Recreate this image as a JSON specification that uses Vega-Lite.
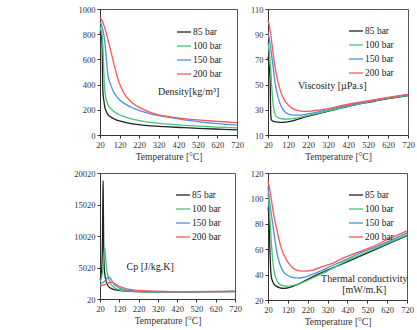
{
  "$schema": "https://vega.github.io/schema/vega-lite/v6.json",
  "background": "white",
  "padding": {"left": 73, "top": 4, "right": 0, "bottom": 0},
  "config": {
    "view": {"stroke": "#555", "strokeWidth": 1},
    "axis": {"domainColor": "#333", "tickColor": "#333", "labelFont": "Liberation Serif", "labelFontSize": 8.5, "labelColor": "#333", "titleFont": "Liberation Serif", "titleFontSize": 9.5, "titleFontWeight": "normal", "titleColor": "#333", "grid": false, "tickSize": 3, "labelPadding": 2, "titlePadding": 3, "labelFlush": false, "labelOverlap": false, "tickCount": 20},
    "legend": {"orient": "none", "title": null, "symbolType": "stroke", "symbolSize": 196, "symbolStrokeWidth": 1, "labelFont": "Liberation Serif", "labelFontSize": 9.5, "labelColor": "#222", "rowPadding": 1, "labelOffset": 1},
    "line": {"strokeWidth": 1.3, "interpolate": "monotone"}
  },
  "datasets": {
    "dens": [
      {"s":"85 bar","T":20,"v":820},{"s":"85 bar","T":25,"v":800},{"s":"85 bar","T":29,"v":765},{"s":"85 bar","T":31,"v":700},{"s":"85 bar","T":33,"v":480},{"s":"85 bar","T":35,"v":340},{"s":"85 bar","T":40,"v":270},{"s":"85 bar","T":44,"v":225},{"s":"85 bar","T":50,"v":195},{"s":"85 bar","T":61,"v":162},{"s":"85 bar","T":80,"v":138},{"s":"85 bar","T":95,"v":125},{"s":"85 bar","T":120,"v":112},{"s":"85 bar","T":180,"v":90},{"s":"85 bar","T":250,"v":76},{"s":"85 bar","T":350,"v":66},{"s":"85 bar","T":450,"v":58},{"s":"85 bar","T":550,"v":51},{"s":"85 bar","T":650,"v":45},{"s":"85 bar","T":720,"v":41},
      {"s":"100 bar","T":20,"v":860},{"s":"100 bar","T":25,"v":835},{"s":"100 bar","T":30,"v":800},{"s":"100 bar","T":35,"v":700},{"s":"100 bar","T":38,"v":560},{"s":"100 bar","T":41,"v":440},{"s":"100 bar","T":44,"v":370},{"s":"100 bar","T":48,"v":310},{"s":"100 bar","T":53,"v":275},{"s":"100 bar","T":60,"v":245},{"s":"100 bar","T":78,"v":204},{"s":"100 bar","T":95,"v":182},{"s":"100 bar","T":112,"v":167},{"s":"100 bar","T":140,"v":147},{"s":"100 bar","T":180,"v":128},{"s":"100 bar","T":250,"v":106},{"s":"100 bar","T":350,"v":88},{"s":"100 bar","T":450,"v":77},{"s":"100 bar","T":521,"v":71},{"s":"100 bar","T":620,"v":63},{"s":"100 bar","T":720,"v":57},
      {"s":"150 bar","T":20,"v":900},{"s":"150 bar","T":30,"v":860},{"s":"150 bar","T":40,"v":790},{"s":"150 bar","T":45,"v":730},{"s":"150 bar","T":50,"v":650},{"s":"150 bar","T":55,"v":560},{"s":"150 bar","T":61,"v":470},{"s":"150 bar","T":70,"v":420},{"s":"150 bar","T":78,"v":384},{"s":"150 bar","T":90,"v":340},{"s":"150 bar","T":112,"v":292},{"s":"150 bar","T":140,"v":255},{"s":"150 bar","T":180,"v":220},{"s":"150 bar","T":230,"v":190},{"s":"150 bar","T":282,"v":166},{"s":"150 bar","T":350,"v":145},{"s":"150 bar","T":436,"v":124},{"s":"150 bar","T":520,"v":106},{"s":"150 bar","T":620,"v":90},{"s":"150 bar","T":720,"v":78},
      {"s":"200 bar","T":20,"v":935},{"s":"200 bar","T":35,"v":890},{"s":"200 bar","T":50,"v":820},{"s":"200 bar","T":65,"v":730},{"s":"200 bar","T":78,"v":650},{"s":"200 bar","T":90,"v":570},{"s":"200 bar","T":100,"v":510},{"s":"200 bar","T":112,"v":440},{"s":"200 bar","T":130,"v":370},{"s":"200 bar","T":146,"v":322},{"s":"200 bar","T":180,"v":262},{"s":"200 bar","T":214,"v":225},{"s":"200 bar","T":260,"v":190},{"s":"200 bar","T":316,"v":162},{"s":"200 bar","T":380,"v":144},{"s":"200 bar","T":436,"v":132},{"s":"200 bar","T":500,"v":122},{"s":"200 bar","T":572,"v":113},{"s":"200 bar","T":650,"v":105},{"s":"200 bar","T":720,"v":98}
    ],
    "visc": [
      {"s":"85 bar","T":20,"v":72},{"s":"85 bar","T":25,"v":66},{"s":"85 bar","T":30,"v":56},{"s":"85 bar","T":32,"v":40},{"s":"85 bar","T":34,"v":26},{"s":"85 bar","T":37,"v":22},{"s":"85 bar","T":45,"v":21},{"s":"85 bar","T":53,"v":20.6},{"s":"85 bar","T":70,"v":20.2},{"s":"85 bar","T":87,"v":20},{"s":"85 bar","T":110,"v":20.3},{"s":"85 bar","T":137,"v":21},{"s":"85 bar","T":170,"v":22.5},{"s":"85 bar","T":203,"v":24.2},{"s":"85 bar","T":250,"v":26},{"s":"85 bar","T":300,"v":28},{"s":"85 bar","T":370,"v":30.8},{"s":"85 bar","T":450,"v":33.8},{"s":"85 bar","T":537,"v":36.4},{"s":"85 bar","T":620,"v":38.8},{"s":"85 bar","T":720,"v":41.3},
      {"s":"100 bar","T":20,"v":83},{"s":"100 bar","T":25,"v":78},{"s":"100 bar","T":30,"v":70},{"s":"100 bar","T":35,"v":58},{"s":"100 bar","T":40,"v":45},{"s":"100 bar","T":45,"v":35},{"s":"100 bar","T":53,"v":27.5},{"s":"100 bar","T":60,"v":25},{"s":"100 bar","T":78,"v":23.2},{"s":"100 bar","T":100,"v":22.7},{"s":"100 bar","T":120,"v":22.6},{"s":"100 bar","T":150,"v":23.1},{"s":"100 bar","T":203,"v":24.8},{"s":"100 bar","T":250,"v":26.5},{"s":"100 bar","T":300,"v":28.3},{"s":"100 bar","T":370,"v":31},{"s":"100 bar","T":450,"v":33.9},{"s":"100 bar","T":537,"v":36.6},{"s":"100 bar","T":620,"v":39},{"s":"100 bar","T":720,"v":41.5},
      {"s":"150 bar","T":20,"v":91},{"s":"150 bar","T":30,"v":83},{"s":"150 bar","T":40,"v":71},{"s":"150 bar","T":45,"v":65},{"s":"150 bar","T":55,"v":52},{"s":"150 bar","T":70,"v":40},{"s":"150 bar","T":85,"v":33},{"s":"150 bar","T":103,"v":28.7},{"s":"150 bar","T":120,"v":26.8},{"s":"150 bar","T":137,"v":26},{"s":"150 bar","T":170,"v":25.8},{"s":"150 bar","T":203,"v":26.2},{"s":"150 bar","T":250,"v":27.6},{"s":"150 bar","T":287,"v":29},{"s":"150 bar","T":350,"v":31.2},{"s":"150 bar","T":453,"v":34.6},{"s":"150 bar","T":537,"v":37.1},{"s":"150 bar","T":620,"v":39.4},{"s":"150 bar","T":720,"v":42},
      {"s":"200 bar","T":20,"v":101},{"s":"200 bar","T":30,"v":94},{"s":"200 bar","T":40,"v":82},{"s":"200 bar","T":53,"v":66},{"s":"200 bar","T":70,"v":52},{"s":"200 bar","T":87,"v":43},{"s":"200 bar","T":103,"v":37.5},{"s":"200 bar","T":120,"v":34},{"s":"200 bar","T":140,"v":31.3},{"s":"200 bar","T":170,"v":29.3},{"s":"200 bar","T":200,"v":28.8},{"s":"200 bar","T":237,"v":29},{"s":"200 bar","T":280,"v":30},{"s":"200 bar","T":320,"v":31},{"s":"200 bar","T":403,"v":33.8},{"s":"200 bar","T":470,"v":35.8},{"s":"200 bar","T":537,"v":37.6},{"s":"200 bar","T":620,"v":39.8},{"s":"200 bar","T":720,"v":42.3}
    ],
    "cp": [
      {"s":"85 bar","T":20,"v":3000},{"s":"85 bar","T":25,"v":3600},{"s":"85 bar","T":30,"v":5500},{"s":"85 bar","T":33,"v":10000},{"s":"85 bar","T":35,"v":16000},{"s":"85 bar","T":36,"v":18800},{"s":"85 bar","T":37,"v":16000},{"s":"85 bar","T":39,"v":9000},{"s":"85 bar","T":42,"v":5000},{"s":"85 bar","T":47,"v":3500},{"s":"85 bar","T":52,"v":2800},{"s":"85 bar","T":60,"v":2200},{"s":"85 bar","T":70,"v":1850},{"s":"85 bar","T":87,"v":1600},{"s":"85 bar","T":110,"v":1420},{"s":"85 bar","T":150,"v":1280},{"s":"85 bar","T":200,"v":1200},{"s":"85 bar","T":300,"v":1150},{"s":"85 bar","T":400,"v":1150},{"s":"85 bar","T":500,"v":1170},{"s":"85 bar","T":600,"v":1190},{"s":"85 bar","T":720,"v":1210},
      {"s":"100 bar","T":20,"v":2800},{"s":"100 bar","T":25,"v":3100},{"s":"100 bar","T":30,"v":3700},{"s":"100 bar","T":35,"v":4700},{"s":"100 bar","T":40,"v":6600},{"s":"100 bar","T":44,"v":8100},{"s":"100 bar","T":46,"v":7800},{"s":"100 bar","T":50,"v":6200},{"s":"100 bar","T":55,"v":4700},{"s":"100 bar","T":60,"v":3800},{"s":"100 bar","T":70,"v":2800},{"s":"100 bar","T":79,"v":2300},{"s":"100 bar","T":90,"v":1950},{"s":"100 bar","T":105,"v":1650},{"s":"100 bar","T":123,"v":1450},{"s":"100 bar","T":150,"v":1320},{"s":"100 bar","T":200,"v":1220},{"s":"100 bar","T":300,"v":1160},{"s":"100 bar","T":400,"v":1160},{"s":"100 bar","T":500,"v":1175},{"s":"100 bar","T":600,"v":1195},{"s":"100 bar","T":720,"v":1215},
      {"s":"150 bar","T":20,"v":2300},{"s":"150 bar","T":30,"v":2500},{"s":"150 bar","T":40,"v":2750},{"s":"150 bar","T":50,"v":3050},{"s":"150 bar","T":60,"v":3400},{"s":"150 bar","T":66,"v":3500},{"s":"150 bar","T":72,"v":3400},{"s":"150 bar","T":80,"v":3000},{"s":"150 bar","T":90,"v":2500},{"s":"150 bar","T":100,"v":2150},{"s":"150 bar","T":115,"v":1850},{"s":"150 bar","T":130,"v":1650},{"s":"150 bar","T":150,"v":1480},{"s":"150 bar","T":200,"v":1300},{"s":"150 bar","T":300,"v":1190},{"s":"150 bar","T":400,"v":1175},{"s":"150 bar","T":500,"v":1185},{"s":"150 bar","T":600,"v":1200},{"s":"150 bar","T":720,"v":1220},
      {"s":"200 bar","T":20,"v":2100},{"s":"200 bar","T":40,"v":2250},{"s":"200 bar","T":60,"v":2500},{"s":"200 bar","T":75,"v":2680},{"s":"200 bar","T":85,"v":2650},{"s":"200 bar","T":95,"v":2500},{"s":"200 bar","T":110,"v":2200},{"s":"200 bar","T":130,"v":1900},{"s":"200 bar","T":150,"v":1700},{"s":"200 bar","T":180,"v":1500},{"s":"200 bar","T":220,"v":1380},{"s":"200 bar","T":300,"v":1250},{"s":"200 bar","T":400,"v":1200},{"s":"200 bar","T":500,"v":1200},{"s":"200 bar","T":600,"v":1210},{"s":"200 bar","T":720,"v":1225}
    ],
    "tc": [
      {"s":"85 bar","T":20,"v":93},{"s":"85 bar","T":25,"v":85},{"s":"85 bar","T":30,"v":57},{"s":"85 bar","T":33,"v":45},{"s":"85 bar","T":37,"v":38},{"s":"85 bar","T":41,"v":35.7},{"s":"85 bar","T":50,"v":32.5},{"s":"85 bar","T":66,"v":30.5},{"s":"85 bar","T":80,"v":29.6},{"s":"85 bar","T":99,"v":29.2},{"s":"85 bar","T":120,"v":29.6},{"s":"85 bar","T":141,"v":30.5},{"s":"85 bar","T":170,"v":32.3},{"s":"85 bar","T":207,"v":35.2},{"s":"85 bar","T":250,"v":38.6},{"s":"85 bar","T":300,"v":42.2},{"s":"85 bar","T":406,"v":49.3},{"s":"85 bar","T":490,"v":55},{"s":"85 bar","T":571,"v":60.5},{"s":"85 bar","T":650,"v":65.9},{"s":"85 bar","T":720,"v":70.6},
      {"s":"100 bar","T":20,"v":104},{"s":"100 bar","T":25,"v":95},{"s":"100 bar","T":30,"v":83},{"s":"100 bar","T":33,"v":75},{"s":"100 bar","T":40,"v":58},{"s":"100 bar","T":45,"v":49},{"s":"100 bar","T":50,"v":43.6},{"s":"100 bar","T":60,"v":37},{"s":"100 bar","T":75,"v":33},{"s":"100 bar","T":90,"v":31.5},{"s":"100 bar","T":108,"v":31},{"s":"100 bar","T":130,"v":31},{"s":"100 bar","T":157,"v":31.8},{"s":"100 bar","T":200,"v":34.2},{"s":"100 bar","T":240,"v":37},{"s":"100 bar","T":300,"v":41.3},{"s":"100 bar","T":406,"v":50},{"s":"100 bar","T":490,"v":56},{"s":"100 bar","T":571,"v":61.2},{"s":"100 bar","T":650,"v":66.5},{"s":"100 bar","T":720,"v":71.3},
      {"s":"150 bar","T":20,"v":109},{"s":"150 bar","T":30,"v":95},{"s":"150 bar","T":41,"v":83},{"s":"150 bar","T":50,"v":73},{"s":"150 bar","T":58,"v":64},{"s":"150 bar","T":66,"v":56.6},{"s":"150 bar","T":80,"v":48},{"s":"150 bar","T":99,"v":42},{"s":"150 bar","T":120,"v":39.3},{"s":"150 bar","T":141,"v":37.8},{"s":"150 bar","T":174,"v":37.3},{"s":"150 bar","T":210,"v":38.3},{"s":"150 bar","T":257,"v":41},{"s":"150 bar","T":320,"v":45.5},{"s":"150 bar","T":406,"v":51.4},{"s":"150 bar","T":490,"v":57.5},{"s":"150 bar","T":571,"v":62.5},{"s":"150 bar","T":650,"v":67.8},{"s":"150 bar","T":720,"v":72.8},
      {"s":"200 bar","T":20,"v":113.7},{"s":"200 bar","T":30,"v":106},{"s":"200 bar","T":40,"v":96},{"s":"200 bar","T":50,"v":86},{"s":"200 bar","T":58,"v":80},{"s":"200 bar","T":75,"v":68},{"s":"200 bar","T":91,"v":59},{"s":"200 bar","T":108,"v":53},{"s":"200 bar","T":124,"v":48.8},{"s":"200 bar","T":140,"v":46},{"s":"200 bar","T":157,"v":44},{"s":"200 bar","T":180,"v":43},{"s":"200 bar","T":207,"v":42.8},{"s":"200 bar","T":250,"v":43.8},{"s":"200 bar","T":290,"v":46},{"s":"200 bar","T":350,"v":49.3},{"s":"200 bar","T":406,"v":53.5},{"s":"200 bar","T":470,"v":57.5},{"s":"200 bar","T":538,"v":61.4},{"s":"200 bar","T":620,"v":67.5},{"s":"200 bar","T":720,"v":74.5}
    ]
  },
  "columns": 2,
  "bounds": "flush",
  "spacing": {"row": 38, "column": 31},
  "resolve": {"scale": {"color": "independent", "x": "independent", "y": "independent"}, "legend": {"color": "independent"}},
  "concat": [
    {
      "width": 137, "height": 126,
      "layer": [
        {"data": {"name": "dens"}, "mark": {"type": "line"},
         "encoding": {
           "x": {"field": "T", "type": "quantitative", "scale": {"domain": [20, 720], "nice": false, "zero": false}, "axis": {"values": [20,120,220,320,420,520,620,720], "tickCount": 20, "title": "Temperature [°C]", "labelOverlap": false}},
           "y": {"field": "v", "type": "quantitative", "scale": {"domain": [0, 1000], "nice": false}, "axis": {"values": [0,200,400,600,800,1000], "tickCount": 20, "title": null, "format": "d", "labelOverlap": false}},
           "color": {"field": "s", "type": "nominal", "scale": {"domain": ["85 bar","100 bar","150 bar","200 bar"], "range": ["#222222","#44c476","#4a93d9","#ff5555"]}, "legend": {"legendX": 76, "legendY": 15, "labelFont": "Liberation Serif", "symbolStrokeWidth": 1}}
         }},
        {"data": {"values": [{}]}, "mark": {"type": "text", "align": "left", "baseline": "middle", "font": "Liberation Serif", "fontSize": 10, "color": "#222"},
         "encoding": {"x": {"datum": 316}, "y": {"datum": 341}, "text": {"value": "Density[kg/m³]"}}}
      ]
    },
    {
      "width": 140, "height": 126,
      "layer": [
        {"data": {"name": "visc"}, "mark": {"type": "line"},
         "encoding": {
           "x": {"field": "T", "type": "quantitative", "scale": {"domain": [20, 720], "nice": false, "zero": false}, "axis": {"values": [20,120,220,320,420,520,620,720], "tickCount": 20, "title": "Temperature [°C]", "labelOverlap": false}},
           "y": {"field": "v", "type": "quantitative", "scale": {"domain": [10, 110], "nice": false, "zero": false}, "axis": {"values": [10,30,50,70,90,110], "tickCount": 20, "title": null, "format": "d", "labelOverlap": false}},
           "color": {"field": "s", "type": "nominal", "scale": {"domain": ["85 bar","100 bar","150 bar","200 bar"], "range": ["#222222","#44c476","#4a93d9","#ff5555"]}, "legend": {"legendX": 80, "legendY": 14, "labelFont": "Liberation Serif", "symbolStrokeWidth": 1}}
         }},
        {"data": {"values": [{}]}, "mark": {"type": "text", "align": "left", "baseline": "middle", "font": "Liberation Serif", "fontSize": 10, "color": "#222"},
         "encoding": {"x": {"datum": 170}, "y": {"datum": 48.9}, "text": {"value": "Viscosity [µPa.s]"}}}
      ]
    },
    {
      "width": 135, "height": 126,
      "layer": [
        {"data": {"name": "cp"}, "mark": {"type": "line"},
         "encoding": {
           "x": {"field": "T", "type": "quantitative", "scale": {"domain": [20, 720], "nice": false, "zero": false}, "axis": {"values": [20,120,220,320,420,520,620,720], "tickCount": 20, "title": "Temperature [°C]", "labelOverlap": false}},
           "y": {"field": "v", "type": "quantitative", "scale": {"domain": [20, 20020], "nice": false, "zero": false}, "axis": {"values": [20,5020,10020,15020,20020], "tickCount": 20, "title": null, "format": "d", "labelOverlap": false}},
           "color": {"field": "s", "type": "nominal", "scale": {"domain": ["85 bar","100 bar","150 bar","200 bar"], "range": ["#222222","#44c476","#4a93d9","#ff5555"]}, "legend": {"legendX": 75, "legendY": 14, "labelFont": "Liberation Serif", "symbolStrokeWidth": 1}}
         }},
        {"data": {"values": [{}]}, "mark": {"type": "text", "align": "left", "baseline": "middle", "font": "Liberation Serif", "fontSize": 10, "color": "#222"},
         "encoding": {"x": {"datum": 158}, "y": {"datum": 5140}, "text": {"value": "Cp [J/kg.K]"}}}
      ]
    },
    {
      "width": 139, "height": 127,
      "layer": [
        {"data": {"name": "tc"}, "mark": {"type": "line"},
         "encoding": {
           "x": {"field": "T", "type": "quantitative", "scale": {"domain": [20, 720], "nice": false, "zero": false}, "axis": {"values": [20,120,220,320,420,520,620,720], "tickCount": 20, "title": "Temperature [°C]", "labelOverlap": false}},
           "y": {"field": "v", "type": "quantitative", "scale": {"domain": [20, 120], "nice": false, "zero": false}, "axis": {"values": [20,40,60,80,100,120], "tickCount": 20, "title": null, "format": "d", "labelOverlap": false}},
           "color": {"field": "s", "type": "nominal", "scale": {"domain": ["85 bar","100 bar","150 bar","200 bar"], "range": ["#222222","#44c476","#4a93d9","#ff5555"]}, "legend": {"legendX": 80, "legendY": 14, "labelFont": "Liberation Serif", "symbolStrokeWidth": 1}}
         }},
        {"data": {"values": [{}]}, "mark": {"type": "text", "align": "center", "baseline": "middle", "font": "Liberation Serif", "fontSize": 10, "color": "#222"},
         "encoding": {"x": {"datum": 505}, "y": {"datum": 36.5}, "text": {"value": "Thermal conductivity"}}},
        {"data": {"values": [{}]}, "mark": {"type": "text", "align": "center", "baseline": "middle", "font": "Liberation Serif", "fontSize": 10, "color": "#222"},
         "encoding": {"x": {"datum": 505}, "y": {"datum": 28.2}, "text": {"value": "[mW/m.K]"}}}
      ]
    }
  ]
}
